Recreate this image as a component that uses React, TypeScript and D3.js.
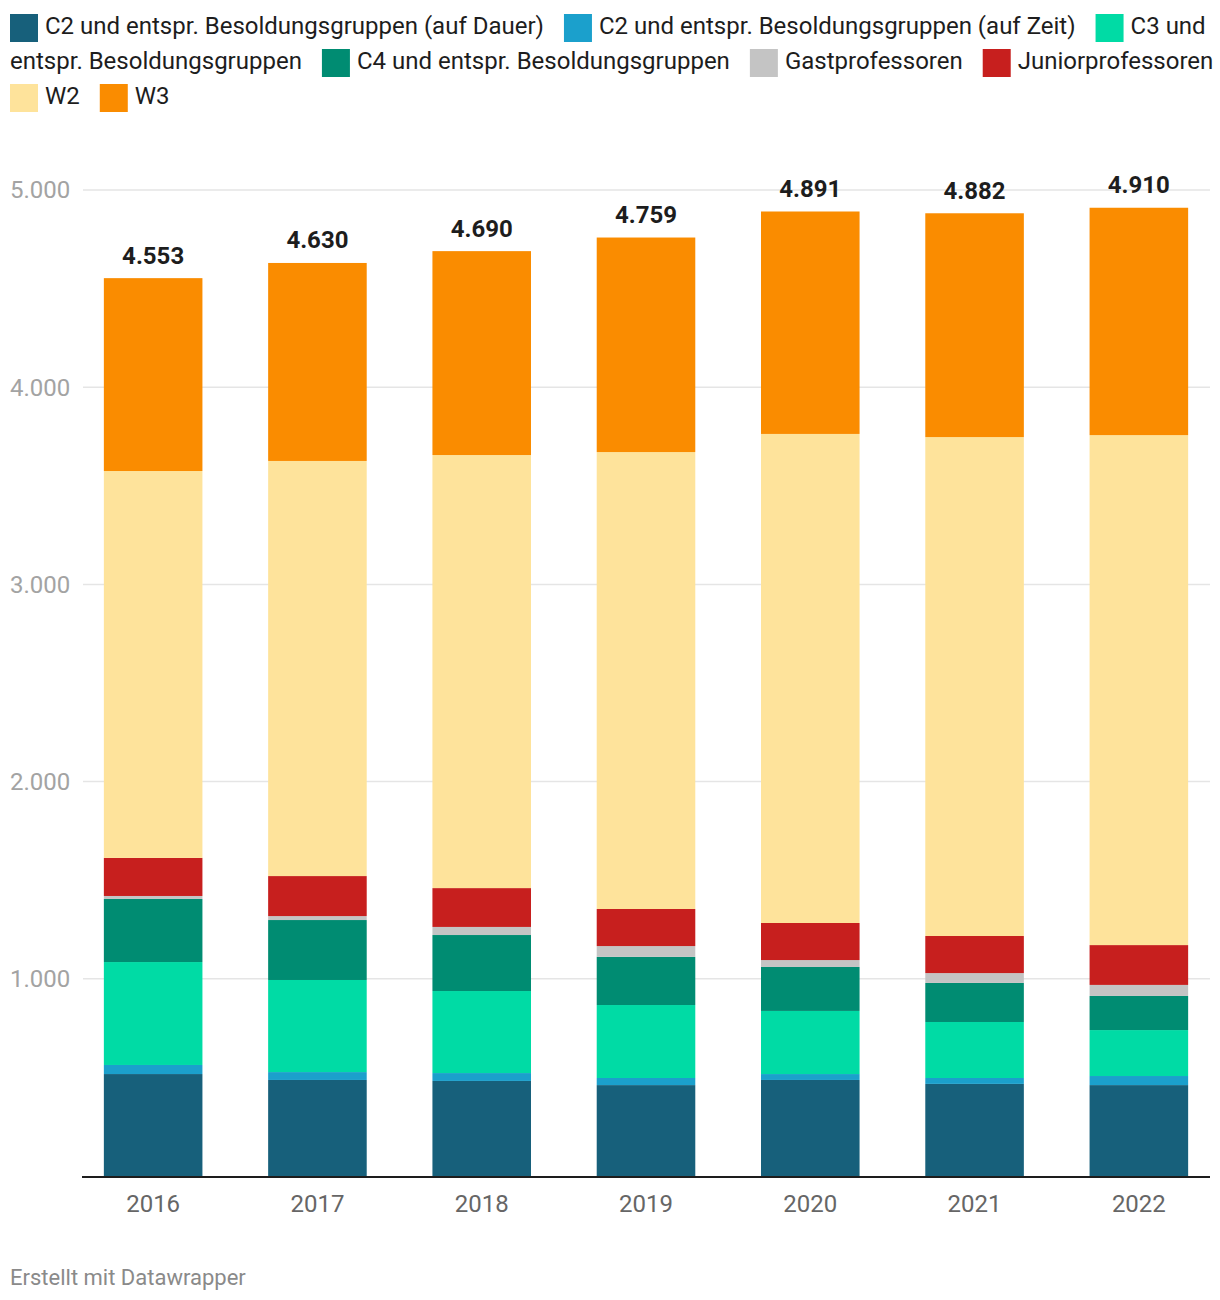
import React, { useEffect, useRef } from "react";
import * as d3 from "d3";

const years = ["2016", "2017", "2018", "2019", "2020", "2021", "2022"];
const c2Dauer = [517, 487, 482, 461, 487, 467, 461];
const c2Zeit = [46, 40, 40, 36, 30, 30, 46];
const c3 = [522, 467, 416, 370, 320, 284, 233];
const c4 = [320, 304, 284, 244, 223, 198, 173];
const gast = [15, 20, 41, 55, 35, 50, 56];
const junior = [193, 203, 197, 188, 188, 188, 202];
const w2 = [1962, 2105, 2196, 2317, 2480, 2530, 2586];
const w3 = [978, 1004, 1034, 1088, 1128, 1135, 1153];

const seriesNames = [
  "C2 und entspr. Besoldungsgruppen (auf Dauer)",
  "C2 und entspr. Besoldungsgruppen (auf Zeit)",
  "C3 und entspr. Besoldungsgruppen",
  "C4 und entspr. Besoldungsgruppen",
  "Gastprofessoren",
  "Juniorprofessoren",
  "W2",
  "W3",
];
const seriesColors = ["#17607b", "#1ba0cc", "#00dba5", "#008c72", "#c4c4c4", "#c71f1e", "#fee39b", "#fa8c00"];
const yTicks = [1000, 2000, 3000, 4000, 5000];

const W = 1220;
const H = 1300;
const FONT = "Roboto, 'Noto Sans', sans-serif";

export default function App() {
  const ref = useRef<SVGSVGElement>(null);

  useEffect(() => {
    const svg = d3.select(ref.current);
    svg.selectAll("*").remove();

    const seriesValues = [c2Dauer, c2Zeit, c3, c4, gast, junior, w2, w3];
    const rows = years.map((y, i) => {
      const r: any = { year: y };
      seriesNames.forEach((n, k) => (r[n] = seriesValues[k][i]));
      return r;
    });
    const stacked = d3.stack().keys(seriesNames)(rows);
    const totals = years.map((_, i) => d3.sum(seriesValues, (s) => s[i]));

    const de = d3.formatLocale({ decimal: ",", thousands: ".", grouping: [3], currency: ["", "€"] });
    const fmt = de.format(",d");

    const x = d3.scaleBand().domain(years).range([71, 1221]).paddingInner(0.4).paddingOuter(0.2);
    const y = d3.scaleLinear().domain([0, 5000]).range([1176, 190]);

    // gridlines
    const g = svg.append("g");
    g.selectAll("line.grid")
      .data(yTicks)
      .join("line")
      .attr("x1", 83)
      .attr("x2", 1210)
      .attr("y1", (d) => y(d))
      .attr("y2", (d) => y(d))
      .attr("stroke", "#e5e5e5")
      .attr("stroke-width", 1.5);
    g.selectAll("text.ytick")
      .data(yTicks)
      .join("text")
      .attr("x", 10)
      .attr("y", (d) => y(d))
      .attr("dy", "0.35em")
      .attr("font-family", FONT)
      .attr("font-size", 24)
      .attr("fill", "#a3a3a3")
      .text((d) => fmt(d));

    // bars
    stacked.forEach((s, k) => {
      svg
        .append("g")
        .attr("fill", seriesColors[k])
        .selectAll("rect")
        .data(s)
        .join("rect")
        .attr("x", (d: any) => x(d.data.year)!)
        .attr("width", x.bandwidth())
        .attr("y", (d) => y(d[1]))
        .attr("height", (d) => y(d[0]) - y(d[1]));
    });

    // baseline
    svg
      .append("line")
      .attr("x1", 82)
      .attr("x2", 1210)
      .attr("y1", y(0) + 1)
      .attr("y2", y(0) + 1)
      .attr("stroke", "#1d1d1d")
      .attr("stroke-width", 2);

    // x labels
    svg
      .append("g")
      .selectAll("text")
      .data(years)
      .join("text")
      .attr("x", (d) => x(d)! + x.bandwidth() / 2)
      .attr("y", 1211.5)
      .attr("text-anchor", "middle")
      .attr("font-family", FONT)
      .attr("font-size", 24)
      .attr("fill", "#666")
      .text((d) => d);

    // totals
    svg
      .append("g")
      .selectAll("text")
      .data(years)
      .join("text")
      .attr("x", (d) => x(d)! + x.bandwidth() / 2)
      .attr("y", (_, i) => y(totals[i]) - 14.5)
      .attr("text-anchor", "middle")
      .attr("font-family", FONT)
      .attr("font-size", 24)
      .attr("font-weight", 700)
      .attr("fill", "#1d1d1d")
      .text((_, i) => fmt(totals[i]));

    // legend
    const lg = svg.append("g");
    const LFS = 24;
    const meas = lg
      .append("text")
      .attr("font-family", FONT)
      .attr("font-size", LFS)
      .attr("visibility", "hidden");
    const tw = (s: string) => {
      meas.text(s);
      return (meas.node() as SVGTextElement).getComputedTextLength();
    };
    const left = 10;
    const maxX = 1215;
    const sq = 28;
    const gap = 7;
    const itemGap = 20;
    const lineH = 35;
    const base0 = 34;
    let cx = left;
    let line = 0;
    seriesNames.forEach((name, k) => {
      const words = name.split(" ");
      if (cx + sq + gap + tw(words[0]) > maxX) {
        line++;
        cx = left;
      }
      lg.append("rect")
        .attr("x", cx)
        .attr("y", base0 + line * lineH - 20)
        .attr("width", sq)
        .attr("height", sq)
        .attr("fill", seriesColors[k]);
      let tx = cx + sq + gap;
      let seg = "";
      const emit = () => {
        lg.append("text")
          .attr("x", tx)
          .attr("y", base0 + line * lineH)
          .attr("font-family", FONT)
          .attr("font-size", LFS)
          .attr("fill", "#1d1d1d")
          .text(seg);
      };
      words.forEach((w) => {
        const cand = seg ? seg + " " + w : w;
        if (seg && tx + tw(cand) > maxX) {
          emit();
          line++;
          tx = left;
          seg = w;
        } else seg = cand;
      });
      emit();
      cx = tx + tw(seg) + itemGap;
    });
    meas.remove();

    // footer
    svg
      .append("text")
      .attr("x", 10)
      .attr("y", 1285)
      .attr("font-family", FONT)
      .attr("font-size", 22)
      .attr("fill", "#8a8a8a")
      .text("Erstellt mit Datawrapper");
  }, []);

  return (
    <svg
      ref={ref}
      width={W}
      height={H}
      style={{ position: "absolute", left: 0, top: 0, background: "#fff" }}
    />
  );
}
